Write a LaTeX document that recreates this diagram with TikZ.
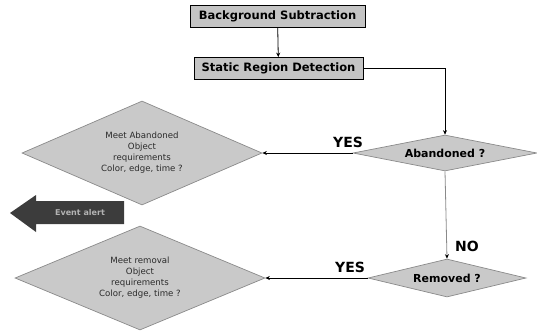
\documentclass[tikz,border=0pt]{standalone}
\usepackage{fontspec}
\setmainfont{DejaVu Sans}
\usetikzlibrary{shapes.geometric,arrows.meta}
\definecolor{fillgray}{HTML}{C9C9C9}
\definecolor{boxgray}{HTML}{C4C4C4}
\definecolor{edgegray}{HTML}{8A8A8A}
\definecolor{arrowdark}{HTML}{3C3C3C}
\definecolor{txtgray}{HTML}{2A2A2A}
\begin{document}
\begin{tikzpicture}[x=1pt,y=-1pt,
  procbox/.style={draw=black, line width=0.8pt, fill=boxgray, inner sep=0pt,
    minimum height=22pt, font=\bfseries\fontsize{11.5}{13}\selectfont},
  decision/.style={diamond, draw=edgegray, line width=0.7pt, fill=fillgray, inner sep=0pt},
  smalldec/.style={decision, font=\bfseries\fontsize{11}{13}\selectfont},
  bigdec/.style={decision, text=txtgray, align=center,
    font=\fontsize{8.6}{11}\selectfont},
  link/.style={-{Stealth[length=4.5pt,width=4pt]}, line width=0.8pt},
  lbl/.style={font=\bfseries\fontsize{14}{16}\selectfont, inner sep=0pt}
]
\useasboundingbox (0,0) rectangle (537,333);

\node[procbox, minimum width=175pt] (bg) at (277.5,16.5) {Background Subtraction};
\node[procbox, minimum width=169pt] (srd) at (278.5,68.5) {Static Region Detection};

\node[smalldec, shape aspect=5, minimum width=184pt, minimum height=36pt] (ab) at (445,153) {Abandoned ?};
\node[smalldec, shape aspect=4.2, minimum width=158pt, minimum height=38pt] (rm) at (447,278) {Removed ?};

\node[bigdec, shape aspect=2.3, minimum width=240pt, minimum height=104pt] (ma) at (142,153)
  {\raisebox{7pt}{\begin{tabular}{@{}c@{}}Meet Abandoned\\Object\\requirements\\Color, edge, time ?\end{tabular}}};
\node[bigdec, shape aspect=2.3, minimum width=250pt, minimum height=104pt] (mr) at (140,278)
  {\raisebox{5pt}{\begin{tabular}{@{}c@{}}Meet removal\\Object\\requirements\\Color, edge, time ?\end{tabular}}};

\draw[link] (bg) -- (srd);
\draw[link] (srd.east) -| (ab.north);
\draw[link] (ab.west) -- (ma.east);
\draw[link, draw=edgegray, -{Stealth[length=4.5pt,width=4pt,color=black]}] (ab.south) -- (rm.north);
\draw[link] (rm.west) -- (mr.east);

\node[lbl] (yes1) at (348,142) {YES};
\node[lbl] (no) at (467,246) {NO};
\node[lbl] (yes2) at (350,267) {YES};

\fill[arrowdark] (10,213) -- (36,195) -- (36,201) -- (124,201) -- (124,224) -- (36,224) -- (36,232) -- cycle;
\node[text=gray!60, font=\bfseries\fontsize{8}{9}\selectfont] (alert) at (80,212.5) {Event alert};
\end{tikzpicture}
\end{document}
